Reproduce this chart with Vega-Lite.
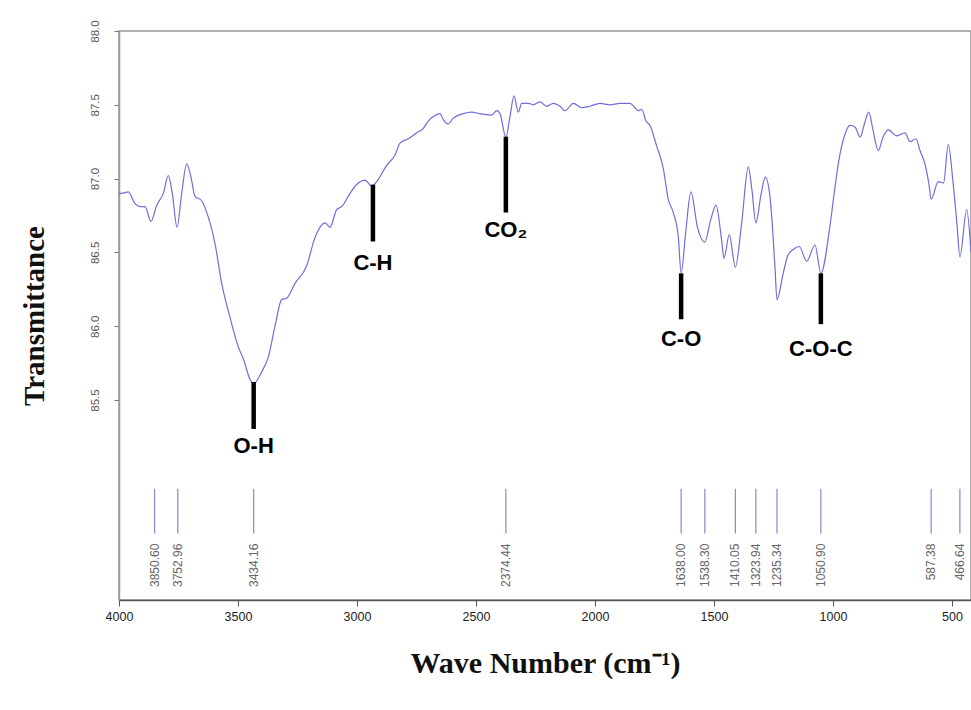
{
  "$schema": "https://vega.github.io/schema/vega-lite/v6.json",
  "autosize": {"type": "none"},
  "width": 852,
  "height": 569,
  "padding": {"left": 119, "top": 31, "right": 0, "bottom": 110},
  "background": "white",
  "config": {
    "view": {"stroke": "#999999", "strokeWidth": 1.5},
    "axis": {"grid": false, "labelFont": "Liberation Sans", "titleFont": "Liberation Serif", "titleFontWeight": "bold", "titleColor": "#111111"}
  },
  "datasets": {
    "spectrum": [
      {"wn": 4000, "t": 86.90}, {"wn": 3988.7, "t": 86.90}, {"wn": 3960.9, "t": 86.91}, {"wn": 3932.8, "t": 86.83},
      {"wn": 3911.8, "t": 86.81}, {"wn": 3890.8, "t": 86.81}, {"wn": 3865.5, "t": 86.71}, {"wn": 3841.6, "t": 86.82},
      {"wn": 3813.9, "t": 86.90}, {"wn": 3792.9, "t": 87.02}, {"wn": 3776.0, "t": 86.90}, {"wn": 3756.3, "t": 86.67},
      {"wn": 3736.6, "t": 86.90}, {"wn": 3715.5, "t": 87.10}, {"wn": 3697.5, "t": 87.01}, {"wn": 3680.7, "t": 86.88},
      {"wn": 3652.5, "t": 86.85}, {"wn": 3635.7, "t": 86.79}, {"wn": 3596.6, "t": 86.56}, {"wn": 3568.5, "t": 86.29},
      {"wn": 3533.6, "t": 86.06}, {"wn": 3498.7, "t": 85.86}, {"wn": 3477.7, "t": 85.78}, {"wn": 3449.6, "t": 85.64},
      {"wn": 3434.2, "t": 85.61}, {"wn": 3400.4, "t": 85.69}, {"wn": 3372.7, "t": 85.79}, {"wn": 3344.5, "t": 86.00},
      {"wn": 3316.4, "t": 86.18}, {"wn": 3295.4, "t": 86.19}, {"wn": 3260.5, "t": 86.29}, {"wn": 3211.3, "t": 86.41},
      {"wn": 3176.5, "t": 86.60}, {"wn": 3134.4, "t": 86.70}, {"wn": 3113.4, "t": 86.67}, {"wn": 3085.3, "t": 86.79},
      {"wn": 3064.3, "t": 86.81}, {"wn": 3029.4, "t": 86.90}, {"wn": 3001.3, "t": 86.96}, {"wn": 2966.4, "t": 86.99},
      {"wn": 2938.2, "t": 86.95}, {"wn": 2917.2, "t": 86.98}, {"wn": 2875.2, "t": 87.09}, {"wn": 2840.3, "t": 87.16},
      {"wn": 2819.3, "t": 87.24}, {"wn": 2784.5, "t": 87.27}, {"wn": 2749.1, "t": 87.31}, {"wn": 2721.4, "t": 87.34},
      {"wn": 2700.4, "t": 87.39}, {"wn": 2679.4, "t": 87.42}, {"wn": 2651.3, "t": 87.44}, {"wn": 2637.4, "t": 87.40},
      {"wn": 2616.4, "t": 87.37}, {"wn": 2595.4, "t": 87.41}, {"wn": 2553.3, "t": 87.44}, {"wn": 2518.1, "t": 87.45},
      {"wn": 2483.2, "t": 87.44}, {"wn": 2434.0, "t": 87.43}, {"wn": 2413.0, "t": 87.46}, {"wn": 2399.2, "t": 87.44},
      {"wn": 2374.4, "t": 87.28}, {"wn": 2357.1, "t": 87.42}, {"wn": 2340.3, "t": 87.56}, {"wn": 2322.3, "t": 87.45},
      {"wn": 2307.9, "t": 87.51}, {"wn": 2280.2, "t": 87.51}, {"wn": 2259.2, "t": 87.50}, {"wn": 2231.1, "t": 87.52},
      {"wn": 2202.9, "t": 87.49}, {"wn": 2175.2, "t": 87.51}, {"wn": 2147.0, "t": 87.49}, {"wn": 2126.0, "t": 87.46},
      {"wn": 2091.1, "t": 87.51}, {"wn": 2055.9, "t": 87.48}, {"wn": 2021.0, "t": 87.49}, {"wn": 1979.0, "t": 87.51},
      {"wn": 1936.9, "t": 87.50}, {"wn": 1894.9, "t": 87.51}, {"wn": 1852.9, "t": 87.51}, {"wn": 1831.9, "t": 87.48},
      {"wn": 1818.0, "t": 87.46}, {"wn": 1803.8, "t": 87.47}, {"wn": 1785.7, "t": 87.39}, {"wn": 1768.9, "t": 87.36},
      {"wn": 1740.7, "t": 87.22}, {"wn": 1713.0, "t": 87.07}, {"wn": 1692.0, "t": 86.86}, {"wn": 1671.0, "t": 86.77},
      {"wn": 1650.0, "t": 86.61}, {"wn": 1638.0, "t": 86.36}, {"wn": 1618.0, "t": 86.65}, {"wn": 1597.0, "t": 86.91},
      {"wn": 1569.3, "t": 86.67}, {"wn": 1538.3, "t": 86.57}, {"wn": 1513.9, "t": 86.72}, {"wn": 1491.6, "t": 86.82},
      {"wn": 1467.6, "t": 86.58}, {"wn": 1458.0, "t": 86.46}, {"wn": 1435.7, "t": 86.62}, {"wn": 1410.1, "t": 86.40},
      {"wn": 1383.6, "t": 86.70}, {"wn": 1355.9, "t": 87.08}, {"wn": 1340.3, "t": 86.92}, {"wn": 1323.9, "t": 86.70},
      {"wn": 1302.5, "t": 86.89}, {"wn": 1284.4, "t": 87.01}, {"wn": 1264.7, "t": 86.88}, {"wn": 1243.7, "t": 86.40},
      {"wn": 1235.3, "t": 86.18}, {"wn": 1208.9, "t": 86.36}, {"wn": 1189.1, "t": 86.48}, {"wn": 1166.8, "t": 86.52},
      {"wn": 1141.6, "t": 86.54}, {"wn": 1110.5, "t": 86.44}, {"wn": 1075.6, "t": 86.55}, {"wn": 1050.9, "t": 86.36},
      {"wn": 1012.6, "t": 86.68}, {"wn": 995.8, "t": 86.89}, {"wn": 977.7, "t": 87.10}, {"wn": 949.6, "t": 87.30},
      {"wn": 928.5, "t": 87.36}, {"wn": 907.5, "t": 87.35}, {"wn": 885.3, "t": 87.28}, {"wn": 869.7, "t": 87.36},
      {"wn": 849.5, "t": 87.45}, {"wn": 831.9, "t": 87.33}, {"wn": 809.7, "t": 87.19}, {"wn": 789.9, "t": 87.28},
      {"wn": 767.7, "t": 87.33}, {"wn": 732.3, "t": 87.29}, {"wn": 697.4, "t": 87.31}, {"wn": 676.4, "t": 87.25},
      {"wn": 651.3, "t": 87.27}, {"wn": 634.4, "t": 87.19}, {"wn": 613.4, "t": 87.10}, {"wn": 596.6, "t": 86.96},
      {"wn": 587.4, "t": 86.86}, {"wn": 557.6, "t": 86.98}, {"wn": 535.3, "t": 86.97}, {"wn": 515.6, "t": 87.23},
      {"wn": 494.6, "t": 86.96}, {"wn": 478.9, "t": 86.69}, {"wn": 466.6, "t": 86.47}, {"wn": 438.2, "t": 86.79},
      {"wn": 420.1, "t": 86.50}
    ],
    "peaks": [
      {"wn": 3850.60, "label": "3850.60"}, {"wn": 3752.96, "label": "3752.96"}, {"wn": 3434.16, "label": "3434.16"},
      {"wn": 2374.44, "label": "2374.44"}, {"wn": 1638.00, "label": "1638.00"}, {"wn": 1538.30, "label": "1538.30"},
      {"wn": 1410.05, "label": "1410.05"}, {"wn": 1323.94, "label": "1323.94"}, {"wn": 1235.34, "label": "1235.34"},
      {"wn": 1050.90, "label": "1050.90"}, {"wn": 587.38, "label": "587.38"}, {"wn": 466.64, "label": "466.64"}
    ],
    "groups": [
      {"wn": 3434.16, "top": 85.622, "bottom": 85.304, "labelT": 85.19, "label": "O-H"},
      {"wn": 2933, "top": 86.959, "bottom": 86.574, "labelT": 86.426, "label": "C-H"},
      {"wn": 2374.44, "top": 87.284, "bottom": 86.77, "labelT": 86.655, "label": "CO₂"},
      {"wn": 1638.0, "top": 86.358, "bottom": 86.047, "labelT": 85.912, "label": "C-O"},
      {"wn": 1050.9, "top": 86.358, "bottom": 86.014, "labelT": 85.845, "label": "C-O-C"}
    ]
  },
  "layer": [
    {
      "data": {"name": "spectrum"},
      "mark": {"type": "line", "color": "#6e6edc", "strokeWidth": 1.2, "clip": true, "interpolate": "monotone"},
      "encoding": {
        "x": {
          "field": "wn", "type": "quantitative",
          "scale": {"domain": [4000, 420], "nice": false, "zero": false},
          "axis": {
            "values": [4000, 3500, 3000, 2500, 2000, 1500, 1000, 500],
            "format": "d", "title": "Wave Number (cm⁻¹)",
            "titleFontSize": 30, "titlePadding": 26,
            "labelFontSize": 12.5, "labelColor": "#222222", "labelPadding": 4,
            "tickSize": 6, "tickColor": "#555555", "domainColor": "#555555", "domainWidth": 1.5,
            "labelFlush": false
          }
        },
        "y": {
          "field": "t", "type": "quantitative",
          "scale": {"domain": [84.145, 88], "nice": false, "zero": false},
          "axis": {
            "values": [85.5, 86, 86.5, 87, 87.5, 88],
            "format": ".1f", "title": "Transmittance",
            "titleFontSize": 29, "titlePadding": 40,
            "labelAngle": 270, "labelAlign": "center", "labelBaseline": "bottom",
            "labelFontSize": 11.5, "labelColor": "#555555", "labelPadding": 14,
            "tickSize": 5, "tickColor": "#777777", "domainColor": "#999999", "domainWidth": 1.5,
            "labelFlush": false
          }
        }
      }
    },
    {
      "data": {"name": "peaks"},
      "mark": {"type": "rule", "color": "#8888cc", "strokeWidth": 1.2},
      "encoding": {
        "x": {"field": "wn", "type": "quantitative"},
        "y": {"datum": 84.899},
        "y2": {"datum": 84.595}
      }
    },
    {
      "data": {"name": "peaks"},
      "mark": {"type": "text", "angle": 270, "align": "right", "baseline": "middle", "fontSize": 12, "font": "Liberation Sans", "color": "#666666"},
      "encoding": {
        "x": {"field": "wn", "type": "quantitative"},
        "y": {"datum": 84.527},
        "text": {"field": "label"}
      }
    },
    {
      "data": {"name": "groups"},
      "mark": {"type": "rule", "color": "#000000", "strokeWidth": 4.5},
      "encoding": {
        "x": {"field": "wn", "type": "quantitative"},
        "y": {"field": "top", "type": "quantitative"},
        "y2": {"field": "bottom"}
      }
    },
    {
      "data": {"name": "groups"},
      "mark": {"type": "text", "align": "center", "baseline": "middle", "fontSize": 22, "fontWeight": "bold", "font": "Liberation Sans", "color": "#000000"},
      "encoding": {
        "x": {"field": "wn", "type": "quantitative"},
        "y": {"field": "labelT", "type": "quantitative"},
        "text": {"field": "label"}
      }
    }
  ]
}
